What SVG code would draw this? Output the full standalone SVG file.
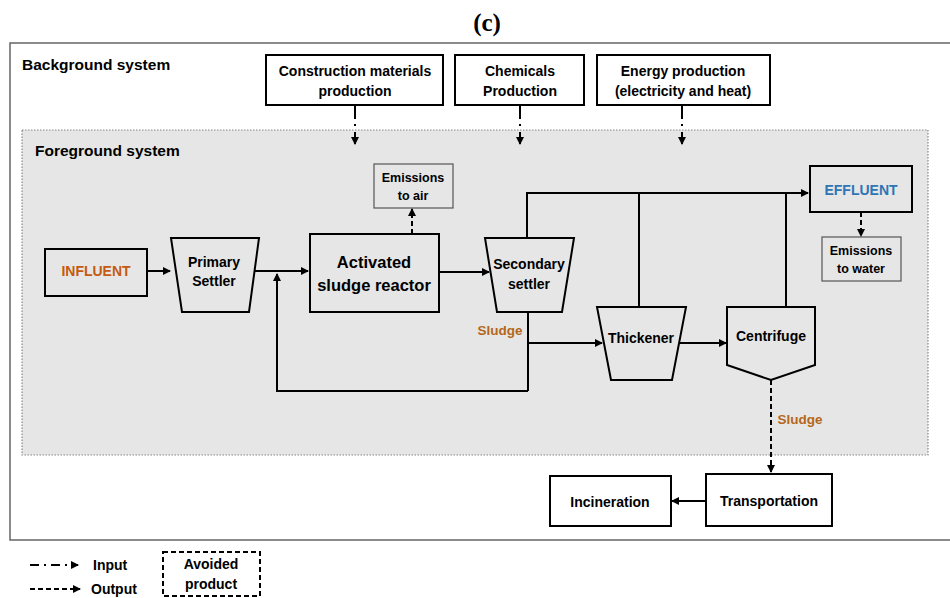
<svg xmlns="http://www.w3.org/2000/svg" width="950" height="598" viewBox="0 0 950 598">
<defs>
<marker id="ah" markerWidth="8" markerHeight="8" refX="7" refY="4" orient="auto" markerUnits="userSpaceOnUse">
<path d="M0,0 L8,4 L0,8 Z" fill="#000"/>
</marker>
<style>
text{font-family:"Liberation Sans",Arial,sans-serif;font-weight:bold;fill:#000;text-anchor:middle}
.box{fill:#fff;stroke:#000;stroke-width:2}
.fbox{fill:#e6e6e6;stroke:#000;stroke-width:2}
.thin{fill:#e6e6e6;stroke:#555;stroke-width:1.2}
.ln{fill:none;stroke:#000;stroke-width:2}
.dd{fill:none;stroke:#000;stroke-width:2;stroke-dasharray:14,5,2,6}
.ddl{fill:none;stroke:#000;stroke-width:2;stroke-dasharray:9,5,2,5}
.da{fill:none;stroke:#000;stroke-width:2;stroke-dasharray:5,3}
.t14{font-size:14px}
.t13{font-size:12.5px}
.sl{fill:#b5661a;font-size:13.5px}
</style>
</defs>
<rect width="950" height="598" fill="#fff"/>
<text x="487" y="31" style="font-family:'Liberation Serif',serif;font-size:25px">(c)</text>
<rect x="10" y="43" width="945" height="497" fill="#fff" stroke="#666" stroke-width="1.5"/>
<text x="22" y="70" style="text-anchor:start;font-size:15.5px">Background system</text>
<rect x="22" y="130" width="906" height="325" fill="#e6e6e6" stroke="#888" stroke-width="1.2" stroke-dasharray="1.5,1.5"/>
<text x="35" y="156" style="text-anchor:start;font-size:15.5px">Foreground system</text>

<g id="construction"><rect class="box" x="266" y="55" width="177" height="50"/><text class="t14" x="355" y="76">Construction materials</text><text class="t14" x="355" y="96">production</text></g>
<g id="chemicals"><rect class="box" x="455" y="55" width="129" height="50"/><text class="t14" x="520" y="76">Chemicals</text><text class="t14" x="520" y="96">Production</text></g>
<g id="energy"><rect class="box" x="597" y="55" width="173" height="50"/><text class="t14" x="683" y="76">Energy production</text><text class="t14" x="683" y="96">(electricity and heat)</text></g>

<g id="influent"><rect class="fbox" x="45" y="249" width="102" height="47"/><text x="96" y="276" style="font-size:14px;fill:#c55a11">INFLUENT</text></g>
<g id="primary"><path class="fbox" d="M171,238 L259,238 L249,312 L182,312 Z"/><text class="t14" x="214" y="267">Primary</text><text class="t14" x="214" y="286">Settler</text></g>
<g id="reactor"><rect class="fbox" x="310" y="234" width="129" height="78"/><text x="374" y="268" style="font-size:16.5px">Activated</text><text x="374" y="291" style="font-size:16.5px">sludge reactor</text></g>
<g id="emis-air"><rect class="thin" x="374" y="164" width="79" height="44"/><text class="t13" x="413" y="182">Emissions</text><text class="t13" x="413" y="200">to air</text></g>
<g id="secondary"><path class="fbox" d="M485,238 L574,238 L562,312 L497,312 Z"/><text class="t14" x="529" y="269">Secondary</text><text class="t14" x="529" y="289">settler</text></g>
<g id="thickener"><path class="fbox" d="M597,307 L686,307 L672,380 L611,380 Z"/><text class="t14" x="641" y="343">Thickener</text></g>
<g id="centrifuge"><path class="fbox" d="M727,307 L815,307 L815,365 L771,380 L727,365 Z"/><text class="t14" x="771" y="341">Centrifuge</text></g>
<g id="effluent"><rect class="fbox" x="810" y="166" width="102" height="46"/><text x="861" y="195" style="font-size:14px;fill:#2e75b6">EFFLUENT</text></g>
<g id="emis-water"><rect class="thin" x="822" y="237" width="79" height="44"/><text class="t13" x="861" y="255">Emissions</text><text class="t13" x="861" y="273">to water</text></g>
<g id="transportation"><rect class="box" x="706" y="474" width="126" height="52"/><text class="t14" x="769" y="506">Transportation</text></g>
<g id="incineration"><rect class="box" x="550" y="476" width="121" height="50"/><text class="t14" x="610" y="507">Incineration</text></g>

<g id="connectors">
<path class="dd" d="M355,105 V144" marker-end="url(#ah)"/>
<path class="dd" d="M520,105 V144" marker-end="url(#ah)"/>
<path class="dd" d="M682,105 V144" marker-end="url(#ah)"/>
<path class="ln" d="M147,271 H170" marker-end="url(#ah)"/>
<path class="ln" d="M255,271 H308" marker-end="url(#ah)"/>
<path class="ln" d="M528,391 H277 V274" marker-end="url(#ah)"/>
<path class="da" d="M412,234 V209" marker-end="url(#ah)"/>
<path class="ln" d="M439,272 H489" marker-end="url(#ah)"/>
<path class="ln" d="M527,238 V193 H808" marker-end="url(#ah)"/>
<path class="ln" d="M639,193 V307"/>
<path class="ln" d="M786,193 V307"/>
<path class="ln" d="M528,312 V391"/>
<path class="ln" d="M528,343 H602" marker-end="url(#ah)"/>
<path class="ln" d="M680,343 H726" marker-end="url(#ah)"/>
<path class="da" d="M861,212 V236" marker-end="url(#ah)"/>
<path class="da" d="M771,380 V472" marker-end="url(#ah)"/>
<path class="ln" d="M706,501 H672" marker-end="url(#ah)"/>
</g>
<text class="sl" x="500" y="335">Sludge</text>
<text class="sl" x="800" y="424">Sludge</text>

<g id="legend">
<path class="ddl" d="M30,565 H78" marker-end="url(#ah)"/>
<text x="93" y="570" style="text-anchor:start;font-size:14px">Input</text>
<path class="da" d="M30,589 H80" marker-end="url(#ah)"/>
<text x="91" y="594" style="text-anchor:start;font-size:14px">Output</text>
<rect x="163" y="552" width="97" height="44" fill="#fff" stroke="#000" stroke-width="2" stroke-dasharray="5,3"/>
<text class="t14" x="211" y="569">Avoided</text>
<text class="t14" x="211" y="589">product</text>
</g>
</svg>
